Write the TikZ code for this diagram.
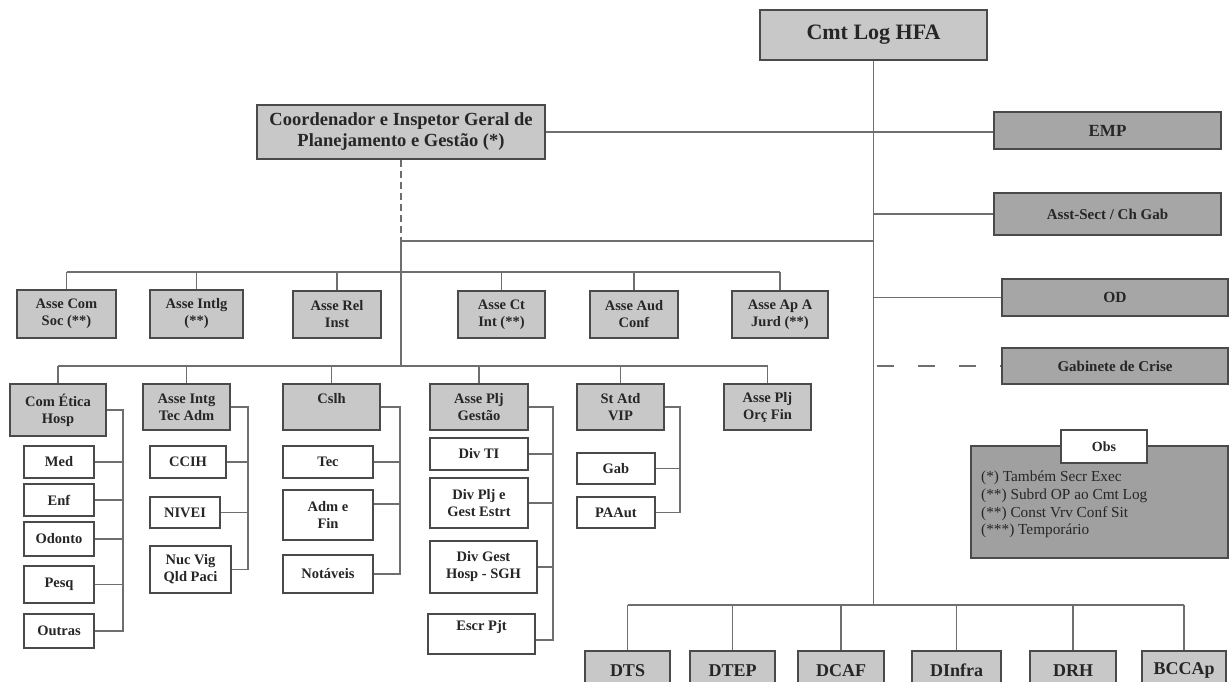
\documentclass[tikz,border=0pt]{standalone}
\usepackage{fontspec}
\setmainfont{Liberation Serif}
\definecolor{bordc}{HTML}{4A4A4A}
\definecolor{linec}{HTML}{6E6E6E}
\definecolor{lightc}{HTML}{C8C8C8}
\definecolor{darkc}{HTML}{A6A6A6}
\definecolor{obsc}{HTML}{A0A0A0}
\newcommand{\orgbox}[7][]{\node[#1, minimum width={#4-#2}, minimum height={#5-#3}] (#6) at ({(#2+#4)/2},{(#3+#5)/2}) {#7};}
\begin{document}
\begin{tikzpicture}[x=1pt,y=-1pt,
  box/.style={draw=bordc, line width=1.4pt, align=center, inner sep=1pt, text=black!85,
    font=\bfseries\fontsize{14.5}{17}\selectfont},
  lbox/.style={box, fill=lightc},
  dbox/.style={box, fill=darkc},
  wbox/.style={box, fill=white},
  conn/.style={draw=linec, line width=1.6pt},
  bigf/.style={font=\bfseries\fontsize{18}{21}\selectfont}]
\fill[white] (0,0) rectangle (1231,682);
\useasboundingbox (0,0) rectangle (1231,682);

% top level
\orgbox[lbox, font=\bfseries\fontsize{22}{26}\selectfont]{760}{10}{987}{60}{cmt}{Cmt Log HFA}
\orgbox[lbox, font=\bfseries\fontsize{18.5}{21}\selectfont]{257}{105}{545}{159}{coord}{Coordenador e Inspetor Geral de\\Planejamento e Gestão (*)}
\orgbox[dbox, font=\bfseries\fontsize{17}{20}\selectfont]{994}{112}{1221}{149}{emp}{EMP}
\orgbox[dbox, font=\bfseries\fontsize{15}{18}\selectfont]{994}{193}{1221}{235}{asst}{Asst-Sect / Ch Gab}
\orgbox[dbox, font=\bfseries\fontsize{15.5}{18}\selectfont]{1002}{279}{1228}{316}{od}{OD}
\orgbox[dbox, font=\bfseries\fontsize{15}{18}\selectfont]{1002}{348}{1228}{384}{gdc}{Gabinete de Crise}

% obs
\orgbox[box, fill=obsc]{971}{446}{1228}{558}{obs}{}
\orgbox[wbox, font=\bfseries\fontsize{14}{16}\selectfont]{1061}{430}{1147}{463}{obsl}{Obs}
\node[anchor=north west, align=left, inner sep=0pt, text=black!85, font=\fontsize{15.3}{17.7}\selectfont] (obstext) at (981,471)
  {(*) Também Secr Exec\\(**) Subrd OP ao Cmt Log\\(**) Const Vrv Conf Sit\\(***) Temporário};

% row 1
\orgbox[lbox]{17}{290}{116}{338}{acs}{Asse Com\\Soc (**)}
\orgbox[lbox]{150}{290}{243}{338}{ain}{Asse Intlg\\(**)}
\orgbox[lbox]{293}{291}{381}{338}{ari}{Asse Rel\\Inst}
\orgbox[lbox]{458}{291}{545}{338}{aci}{Asse Ct\\Int (**)}
\orgbox[lbox]{590}{291}{678}{338}{aac}{Asse Aud\\Conf}
\orgbox[lbox]{732}{291}{828}{338}{aaj}{Asse Ap A\\Jurd (**)}

% row 2
\orgbox[lbox]{10}{384}{106}{436}{ceh}{Com Ética\\Hosp}
\orgbox[lbox]{143}{384}{230}{430}{ait}{Asse Intg\\Tec Adm}
\orgbox[lbox]{283}{384}{380}{430}{csl}{Cslh\\~}
\orgbox[lbox]{430}{384}{528}{430}{apg}{Asse Plj\\Gestão}
\orgbox[lbox]{577}{384}{664}{430}{vip}{St Atd\\VIP}
\orgbox[lbox]{724}{384}{811}{430}{apo}{Asse Plj\\Orç Fin}

% subordinates
\orgbox[wbox]{24}{446}{94}{478}{med}{Med}
\orgbox[wbox]{24}{484}{94}{516}{enf}{Enf}
\orgbox[wbox]{24}{522}{94}{556}{odo}{Odonto}
\orgbox[wbox]{24}{566}{94}{603}{pes}{Pesq}
\orgbox[wbox]{24}{614}{94}{648}{out}{Outras}
\orgbox[wbox]{150}{446}{226}{478}{ccih}{CCIH}
\orgbox[wbox]{150}{497}{220}{528}{nivei}{NIVEI}
\orgbox[wbox]{150}{546}{231}{593}{nuc}{Nuc Vig\\Qld Paci}
\orgbox[wbox]{283}{446}{373}{478}{tec}{Tec}
\orgbox[wbox]{283}{490}{373}{540}{adm}{Adm e\\Fin}
\orgbox[wbox]{283}{555}{373}{593}{nota}{Notáveis}
\orgbox[wbox]{430}{438}{528}{470}{dti}{Div TI}
\orgbox[wbox]{430}{478}{528}{528}{dpl}{Div Plj e\\Gest Estrt}
\orgbox[wbox]{430}{541}{537}{593}{dgh}{Div Gest\\Hosp - SGH}
\orgbox[wbox]{428}{614}{535}{654}{esc}{Escr Pjt\\~}
\orgbox[wbox]{577}{453}{655}{484}{gab}{Gab}
\orgbox[wbox]{577}{497}{655}{528}{paa}{PAAut}

% bottom row
\orgbox[lbox, bigf]{585}{651}{670}{690}{dts}{DTS}
\orgbox[lbox, bigf]{690}{651}{775}{690}{dtep}{DTEP}
\orgbox[lbox, bigf]{798}{651}{884}{690}{dcaf}{DCAF}
\orgbox[lbox, bigf]{912}{651}{1001}{690}{dinf}{DInfra}
\orgbox[lbox, bigf]{1030}{651}{1116}{690}{drh}{DRH}
\orgbox[lbox, bigf]{1142}{651}{1226}{690}{bcc}{BCCAp}

% helper coordinates
\coordinate (b1) at (401,241);
\coordinate (r1) at (401,272);
\coordinate (r2) at (401,366);
\coordinate (bb) at (873,605);
\coordinate (xceh) at (123,0);
\coordinate (xait) at (248,0);
\coordinate (xcsl) at (400,0);
\coordinate (xapg) at (553,0);
\coordinate (xvip) at (680,0);

% spine and right side
\draw[conn] (cmt.south) -- (cmt.south |- bb);
\draw[conn] (coord.east) -- (coord.east -| emp.west);
\draw[conn] (asst.west -| cmt.south) -- (asst.west);
\draw[conn] (od.west -| cmt.south) -- (od.west);
\draw[conn, dash pattern=on 17pt off 24pt] ([xshift=3pt]gdc.west -| cmt.south) -- (gdc.west);

% coordinator branch
\draw[conn, dash pattern=on 7pt off 4pt] (coord.south) -- (b1);
\draw[conn] (b1) -- (b1 -| cmt.south);
\draw[conn] (b1) -- (r2);
\draw[conn] (acs.north |- r1) -- (aaj.north |- r1);
\foreach \n in {acs,ain,ari,aci,aac,aaj} \draw[conn] (\n.north) -- (\n.north |- r1);
\draw[conn] (ceh.north |- r2) -- (apo.north |- r2);
\foreach \n in {ceh,ait,csl,apg,vip,apo} \draw[conn] (\n.north) -- (\n.north |- r2);

% brackets
\draw[conn] (ceh.east) -- (ceh.east -| xceh) -- (out.east -| xceh) -- (out.east);
\foreach \n in {med,enf,odo,pes} \draw[conn] (\n.east) -- (\n.east -| xceh);
\draw[conn] (ait.east) -- (ait.east -| xait) -- (nuc.east -| xait) -- (nuc.east);
\foreach \n in {ccih,nivei} \draw[conn] (\n.east) -- (\n.east -| xait);
\draw[conn] (csl.east) -- (csl.east -| xcsl) -- (nota.east -| xcsl) -- (nota.east);
\draw[conn] (tec.east) -- (tec.east -| xcsl);
\draw[conn] ([yshift=11pt]adm.east) -- ([yshift=11pt]adm.east -| xcsl);
\draw[conn] (apg.east) -- (apg.east -| xapg) -- ([yshift=-6pt]esc.east -| xapg) -- ([yshift=-6pt]esc.east);
\foreach \n in {dti,dpl,dgh} \draw[conn] (\n.east) -- (\n.east -| xapg);
\draw[conn] (vip.east) -- (vip.east -| xvip) -- (paa.east -| xvip) -- (paa.east);
\draw[conn] (gab.east) -- (gab.east -| xvip);

% bottom bus
\draw[conn] (dts.north |- bb) -- (bcc.north |- bb);
\foreach \n in {dts,dtep,dcaf,dinf,drh,bcc} \draw[conn] (\n.north) -- (\n.north |- bb);
\end{tikzpicture}
\end{document}
